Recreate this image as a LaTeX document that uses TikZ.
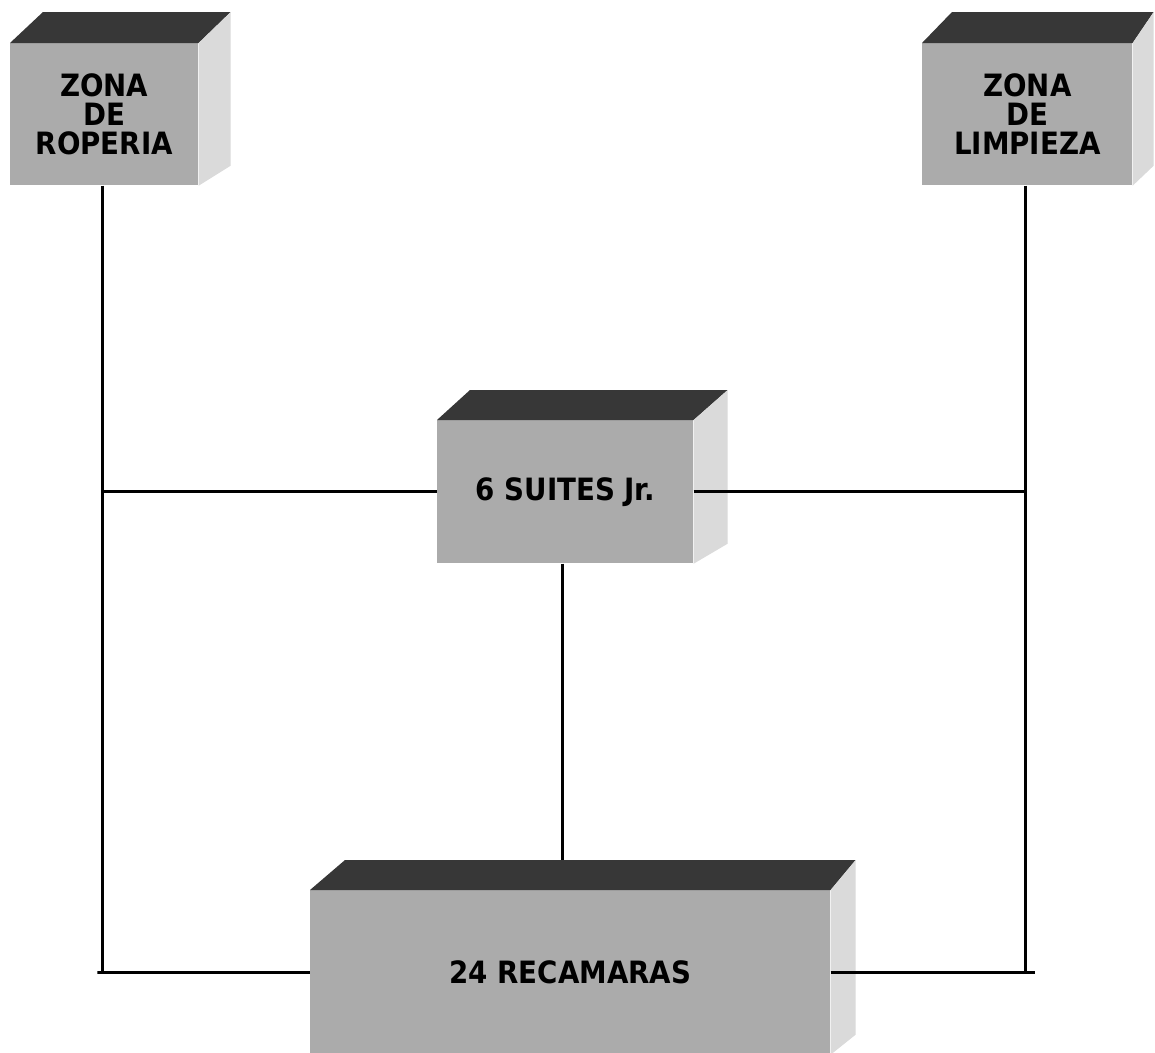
\documentclass[tikz,border=0pt]{standalone}
\usepackage{fontspec}
\setmainfont{DejaVu Sans Condensed}[BoldFont={DejaVu Sans Condensed Bold}]
\usetikzlibrary{calc,backgrounds}
\definecolor{frontgray}{HTML}{ABABAB}
\definecolor{topgray}{HTML}{373737}
\definecolor{sidegray}{HTML}{DADADA}
\tikzset{
  front/.style={fill=frontgray, draw=none, inner sep=0pt, anchor=north west,
    align=center, font=\bfseries\fontsize{17.5}{16.4}\selectfont},
  topface/.style={fill=topgray},
  sideface/.style={fill=sidegray},
  link/.style={line width=1.8pt, black},
}
\begin{document}
\begin{tikzpicture}[x=0.02cm,y=-0.02cm]
\useasboundingbox (0,0) rectangle (1155,1052);
\clip (0,0) rectangle (1155,1052);
\fill[white] (0,0) rectangle (1155,1052);

% ZONA DE ROPERIA
\node[front, minimum width=3.76cm, minimum height=2.84cm] (rop) at (10,43) {ZONA\\DE\\ROPERIA};
\fill[topface] (rop.north west) -- ++(33,-31) -- ($(rop.north east)+(32,-31)$) -- (rop.north east) -- cycle;
\fill[sideface] (rop.north east) -- ++(32,-31) -- ($(rop.south east)+(32,-20)$) -- (rop.south east) -- cycle;

% ZONA DE LIMPIEZA
\node[front, minimum width=4.2cm, minimum height=2.84cm] (lim) at (922,43) {ZONA\\DE\\LIMPIEZA};
\fill[topface] (lim.north west) -- ++(30,-31) -- ($(lim.north east)+(21,-31)$) -- (lim.north east) -- cycle;
\fill[sideface] (lim.north east) -- ++(21,-31) -- ($(lim.south east)+(21,-20)$) -- (lim.south east) -- cycle;

% 6 SUITES Jr.
\node[front, minimum width=5.12cm, minimum height=2.86cm] (sui) at (437,420) {6 SUITES Jr.};
\fill[topface] (sui.north west) -- ++(33,-30) -- ($(sui.north east)+(34,-30)$) -- (sui.north east) -- cycle;
\fill[sideface] (sui.north east) -- ++(34,-30) -- ($(sui.south east)+(34,-20)$) -- (sui.south east) -- cycle;

% 24 RECAMARAS
\node[front, minimum width=10.4cm, minimum height=3.28cm] (rec) at (310,890) {24 RECAMARAS};
\fill[topface] (rec.north west) -- ++(35,-30) -- ($(rec.north east)+(25,-30)$) -- (rec.north east) -- cycle;
\fill[sideface] (rec.north east) -- ++(25,-30) -- ($(rec.south east)+(25,-20)$) -- (rec.south east) -- cycle;

% connectors
\coordinate (lx) at ($(rop.south)+(-2,0)$);
\coordinate (rx) at ($(lim.south)+(-2,0)$);
\coordinate (mx) at ($(sui.south)+(-3,0)$);
\draw[link] (lx) -- (lx |- rec.west) -- ++(-5,0) -- (rec.west);
\draw[link] (lx |- sui.west) -- (sui.west);
\draw[link] (rx) -- (rx |- rec.east);
\draw[link] (rec.east) -- ($(rx |- rec.east)+(10,0)$);
\draw[link] (sui.east) -- (rx |- sui.east);
\draw[link] (mx) -- ($(mx |- rec.north)+(0,-30)$);
\end{tikzpicture}
\end{document}
